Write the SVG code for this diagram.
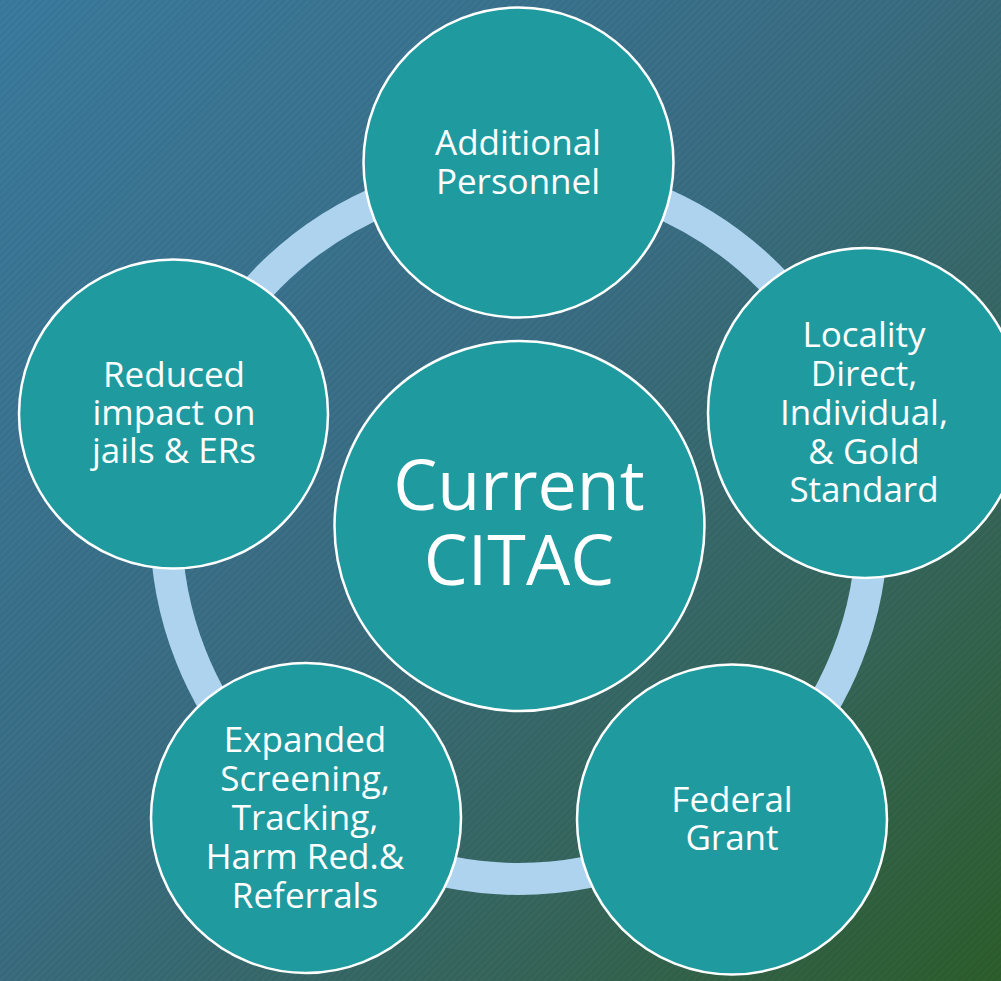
<svg xmlns="http://www.w3.org/2000/svg" width="1001" height="981" viewBox="0 0 1001 981">
<defs>
<linearGradient id="bg" x1="0" y1="0" x2="1001" y2="981" gradientUnits="userSpaceOnUse">
<stop offset="0" stop-color="#3b7b9e"/>
<stop offset="0.45" stop-color="#3a6e84"/>
<stop offset="0.75" stop-color="#36665a"/>
<stop offset="1" stop-color="#2d5e2c"/>
</linearGradient>
<pattern id="hatch" width="5" height="5" patternUnits="userSpaceOnUse" patternTransform="rotate(-45)">
<rect x="0" y="0" width="5" height="2" fill="#000" fill-opacity="0.05"/>
</pattern>
<style>
.node{fill:#1f9ba0;stroke:#fff;stroke-width:2.5}
.lbl{font-family:"Open Sans","DejaVu Sans",sans-serif;font-size:35px;fill:#fff;text-anchor:middle}
.big{font-size:70px}
</style>
</defs>
<rect width="1001" height="981" fill="url(#bg)"/>
<rect width="1001" height="981" fill="url(#hatch)"/>
<g id="connectors">
<circle cx="519" cy="526" r="353" fill="none" stroke="#aed3ef" stroke-width="32"/>
</g>
<g id="node-personnel">
<circle class="node" cx="518.5" cy="162.5" r="155"/>
<text class="lbl" x="518" y="155">Additional</text>
<text class="lbl" x="518" y="194">Personnel</text>
</g>
<g id="node-locality">
<ellipse class="node" cx="865" cy="413" rx="157" ry="165"/>
<text class="lbl" x="864" y="347">Locality</text>
<text class="lbl" x="864" y="386">Direct,</text>
<text class="lbl" x="864" y="425">Individual,</text>
<text class="lbl" x="864" y="464">&amp; Gold</text>
<text class="lbl" x="864" y="502">Standard</text>
</g>
<g id="node-grant">
<circle class="node" cx="732" cy="819.5" r="155"/>
<text class="lbl" x="732" y="812">Federal</text>
<text class="lbl" x="732" y="850">Grant</text>
</g>
<g id="node-screening">
<circle class="node" cx="306" cy="818" r="155"/>
<text class="lbl" x="305" y="752">Expanded</text>
<text class="lbl" x="305" y="791">Screening,</text>
<text class="lbl" x="305" y="830">Tracking,</text>
<text class="lbl" x="305" y="869">Harm Red.&amp;</text>
<text class="lbl" x="305" y="908">Referrals</text>
</g>
<g id="node-reduced">
<circle class="node" cx="173.5" cy="414" r="154.5"/>
<text class="lbl" x="174" y="387">Reduced</text>
<text class="lbl" x="174" y="425">impact on</text>
<text class="lbl" x="174" y="463">jails &amp; ERs</text>
</g>
<g id="node-center">
<circle class="node" cx="519.5" cy="526" r="185"/>
<text class="lbl big" x="519" y="510">Current</text>
<text class="lbl big" x="519" y="585">CITAC</text>
</g>
</svg>
